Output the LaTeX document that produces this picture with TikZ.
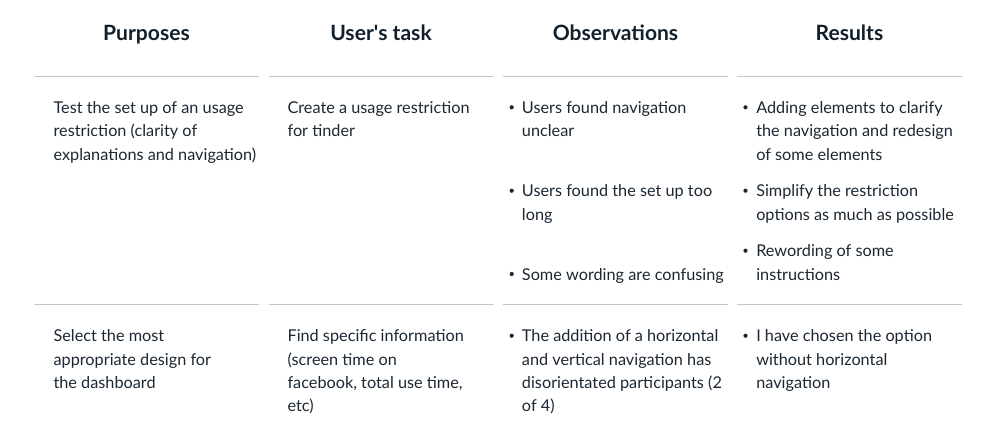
\documentclass[tikz,border=0pt]{standalone}
\usepackage{fontspec}
\setmainfont{Lato}
\definecolor{headc}{HTML}{13202B}
\definecolor{bodyc}{HTML}{1B2732}
\definecolor{rulec}{HTML}{C6C6C6}
\begin{document}
\begin{tikzpicture}[x=0.75pt,y=-0.75pt,
  head/.style={anchor=base,font=\fontsize{15.8}{18}\selectfont\bfseries,text=headc,inner sep=0pt},
  body/.style={anchor=base west,align=left,font=\fontsize{12.2}{17.5}\selectfont,text=bodyc,inner sep=0pt},
  rule/.style={draw=rulec,line width=0.9pt},
  dot/.style={fill=bodyc}]
\useasboundingbox (0,0) rectangle (1000,436);
% headers
\node[head] (h1) at (146.5,40) {Purposes};
\node[head] (h2) at (381,40) {User\textquotesingle s task};
\node[head] (h3) at (615.5,40) {Observations};
\node[head] (h4) at (849.5,40) {Results};
% rules
\foreach \a/\b/\n in {34/259/1,268.7/494/2,502.7/728/3,737/962.3/4}{
  \coordinate (ta\n) at (\a,76.3); \coordinate (tb\n) at (\b,76.3);
  \coordinate (ma\n) at (\a,304.3); \coordinate (mb\n) at (\b,304.3);
  \draw[rule] (ta\n) -- (tb\n);
  \draw[rule] (ma\n) -- (mb\n);
}
% row 1 (node base = baseline of the last line)
\node[body] (r1c1) at (53.3,160) {Test the set up of an usage\\restriction (clarity of\\explanations and navigation)};
\node[body] (r1c2) at (287.3,136.6) {Create a usage restriction\\for tinder};
\node[body] (r1c3a) at (521.7,136.6) {Users found navigation\\unclear};
\node[body] (r1c3b) at (521.7,220) {Users found the set up too\\long};
\node[body] (r1c3c) at (521.7,280) {Some wording are confusing};
\node[body] (r1c4a) at (756,160) {Adding elements to clarify\\the navigation and redesign\\of some elements};
\node[body] (r1c4b) at (756,220) {Simplify the restriction\\options as much as possible};
\node[body] (r1c4c) at (756,280) {Rewording of some\\instructions};
% row 2
\node[body] (r2c1) at (53.3,388.4) {Select the most\\appropriate design for\\the dashboard};
\node[body] (r2c2) at (287.3,411.7) {Find specific information\\(screen time on\\facebook, total use time,\\etc)};
\node[body] (r2c3) at (521.7,411.7) {The addition of a horizontal\\and vertical navigation has\\disorientated participants (2\\of 4)};
\node[body] (r2c4) at (756,388.4) {I have chosen the option\\without horizontal\\navigation};
% bullets
\foreach \x/\y in {511.7/113.3,511.7/196.7,511.7/280,745.5/113.3,745.5/196.7,745.5/256.7,511.7/341.7,745.5/341.7}{
  \fill[dot] (\x,\y-6) circle (2.1);
}
\end{tikzpicture}
\end{document}
